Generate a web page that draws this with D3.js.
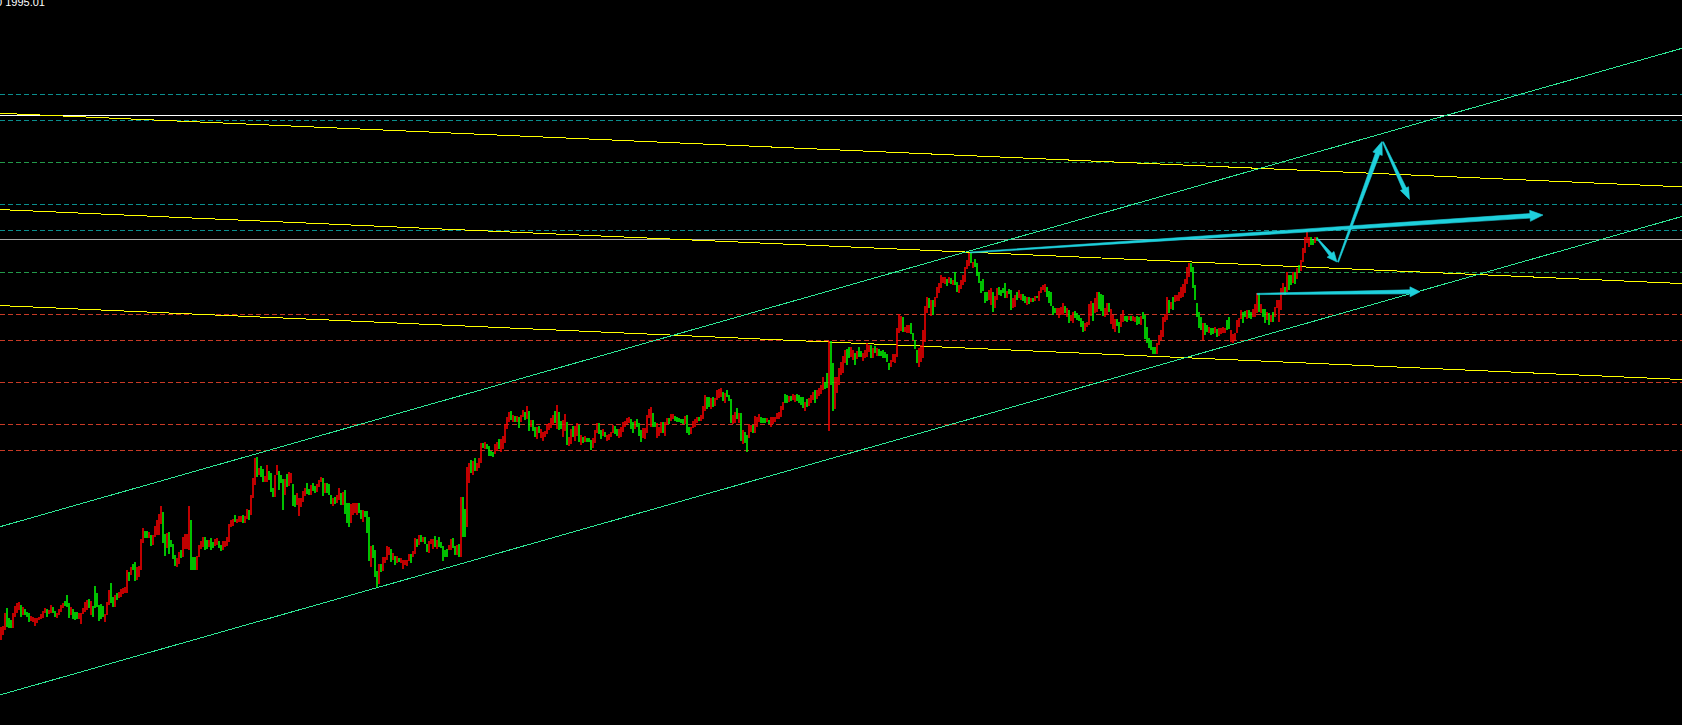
<!DOCTYPE html>
<html><head><meta charset="utf-8">
<script src="https://cdn.jsdelivr.net/npm/d3@7"></script>
<style>html,body{margin:0;padding:0;background:#000;overflow:hidden}</style>
</head><body><svg id="c" width="1682" height="725"></svg>
<script>
// ---- DATA ----
const headerText = "0 1995.01";
// [open, close] per H1 candle
const candles = [
[1955.0,1956.3],[1955.5,1956.4],[1956.0,1957.7],[1958.2,1956.3],[1957.2,1956.2],[1957.0,1956.2],[1956.2,1957.7],[1957.3,1958.4],[1957.7,1958.7],[1958.0,1958.8],
[1958.5,1957.3],[1957.5,1958.3],[1958.1,1957.5],[1957.8,1957.3],[1957.7,1956.8],[1956.9,1957.4],[1956.8,1957.3],[1956.4,1957.2],[1956.7,1957.2],[1957.0,1957.3],
[1957.1,1957.6],[1957.2,1957.9],[1957.7,1958.2],[1958.1,1957.3],[1957.6,1958.0],[1957.7,1958.5],[1958.3,1957.7],[1957.9,1957.3],[1957.2,1957.7],[1957.5,1958.1],
[1957.8,1958.5],[1958.2,1958.7],[1958.9,1958.4],[1959.5,1958.3],[1958.7,1957.2],[1957.5,1958.3],[1958.1,1957.1],[1957.8,1957.0],[1957.8,1957.1],[1957.1,1957.7],
[1956.6,1957.7],[1957.6,1958.2],[1957.8,1958.8],[1958.0,1959.0],[1959.1,1958.2],[1957.5,1958.9],[1958.4,1957.3],[1960.4,1958.2],[1959.7,1958.3],[1958.5,1956.9],
[1958.6,1957.1],[1958.4,1957.3],[1956.8,1957.6],[1957.5,1958.8],[1958.5,1960.0],[1960.7,1958.7],[1959.3,1958.3],[1958.3,1959.5],[1959.7,1959.0],[1959.2,1959.8],
[1959.3,1960.1],[1959.6,1960.2],[1959.7,1960.3],[1959.7,1962.0],[1961.8,1960.9],[1961.5,1962.3],[1962.6,1962.0],[1962.8,1960.9],[1961.0,1962.3],[1961.3,1962.4],
[1962.0,1965.1],[1964.7,1966.2],[1965.9,1965.2],[1965.9,1965.2],[1965.2,1965.8],[1965.5,1964.4],[1964.5,1965.5],[1965.3,1966.4],[1965.5,1967.0],[1965.5,1967.6],
[1966.6,1968.4],[1967.8,1964.7],[1965.6,1963.4],[1964.2,1965.7],[1965.8,1963.6],[1965.0,1964.3],[1964.6,1963.1],[1963.5,1962.4],[1962.3,1963.2],[1962.6,1963.8],
[1964.0,1963.2],[1963.3,1965.3],[1964.1,1965.6],[1964.1,1965.6],[1964.0,1968.4],[1967.0,1962.0],[1963.3,1962.0],[1963.3,1962.0],[1962.0,1963.4],[1963.3,1964.5],
[1964.1,1964.9],[1964.3,1965.3],[1965.3,1964.0],[1965.0,1964.1],[1964.3,1965.0],[1965.2,1964.0],[1964.8,1964.2],[1964.4,1965.1],[1964.5,1965.2],[1964.9,1964.2],
[1964.5,1963.9],[1964.0,1964.9],[1964.3,1964.9],[1964.4,1965.3],[1964.8,1966.6],[1966.3,1967.0],[1966.4,1967.1],[1967.5,1966.8],[1966.7,1967.1],[1966.8,1967.4],
[1966.8,1967.4],[1967.5,1966.7],[1966.7,1967.4],[1967.1,1968.1],[1968.0,1967.0],[1967.5,1969.5],[1969.2,1971.2],[1970.5,1973.2],[1973.3,1971.3],[1971.5,1972.2],
[1972.4,1971.3],[1972.1,1970.8],[1970.8,1971.4],[1970.8,1972.5],[1971.9,1971.0],[1971.7,1969.8],[1970.2,1969.3],[1969.3,1971.5],[1971.5,1972.5],[1971.9,1970.0],
[1971.5,1970.7],[1971.1,1968.0],[1969.5,1971.1],[1971.6,1970.3],[1970.4,1971.8],[1970.7,1971.7],[1970.6,1968.4],[1969.5,1968.3],[1968.5,1969.7],[1967.4,1969.2],
[1968.3,1969.2],[1968.8,1969.9],[1969.4,1970.2],[1970.7,1969.6],[1970.1,1969.5],[1969.5,1970.5],[1970.7,1969.9],[1970.4,1969.7],[1969.8,1970.6],[1970.3,1971.0],
[1970.8,1971.3],[1971.2,1969.4],[1969.7,1970.7],[1970.7,1969.7],[1970.6,1969.5],[1969.5,1968.6],[1968.4,1969.2],[1969.3,1968.6],[1968.7,1969.5],[1969.0,1970.2],
[1969.7,1968.5],[1968.5,1969.8],[1970.0,1967.6],[1968.7,1966.7],[1968.7,1966.3],[1966.7,1968.6],[1967.5,1968.7],[1967.7,1968.7],[1967.5,1968.7],[1968.7,1967.7],
[1968.0,1967.1],[1966.8,1968.0],[1967.9,1967.3],[1967.9,1965.7],[1967.3,1962.9],[1962.3,1964.4],[1964.5,1963.2],[1964.0,1961.3],[1961.9,1960.3],[1960.6,1962.6],
[1962.6,1961.8],[1961.9,1963.3],[1962.7,1963.3],[1963.0,1964.4],[1963.5,1964.3],[1964.1,1962.8],[1963.0,1963.7],[1963.4,1962.5],[1962.7,1963.4],[1963.2,1962.8],
[1962.7,1963.2],[1962.1,1963.0],[1962.5,1963.0],[1962.4,1963.0],[1962.9,1963.6],[1963.6,1962.7],[1963.3,1963.9],[1963.6,1965.2],[1965.1,1964.3],[1964.5,1965.5],
[1965.5,1964.8],[1964.8,1965.3],[1965.3,1964.6],[1964.6,1963.8],[1963.7,1964.9],[1964.6,1965.1],[1964.1,1965.1],[1965.4,1964.3],[1964.1,1965.0],[1965.3,1964.3],
[1964.8,1964.2],[1964.4,1962.9],[1964.0,1963.3],[1964.1,1963.3],[1964.0,1964.5],[1964.0,1965.1],[1965.2,1964.2],[1964.4,1963.5],[1963.5,1964.5],[1964.6,1963.3],
[1963.3,1969.3],[1969.3,1965.3],[1968.1,1965.3],[1966.3,1972.3],[1970.7,1972.7],[1973.0,1971.7],[1971.5,1972.9],[1973.2,1971.9],[1971.9,1972.7],[1972.2,1973.2],
[1972.7,1974.7],[1974.7,1974.2],[1974.1,1974.8],[1974.6,1974.1],[1974.4,1973.4],[1973.9,1973.4],[1973.8,1973.3],[1973.6,1974.6],[1973.9,1974.8],[1975.1,1974.1],
[1973.8,1975.1],[1974.1,1975.4],[1974.7,1976.6],[1976.1,1977.3],[1976.8,1977.8],[1977.9,1977.0],[1976.8,1977.5],[1977.4,1976.8],[1976.8,1977.4],[1977.3,1976.2],
[1976.8,1977.5],[1977.3,1978.0],[1977.8,1977.0],[1977.1,1978.4],[1977.9,1975.9],[1976.3,1977.0],[1977.0,1975.9],[1976.3,1975.3],[1975.1,1976.3],[1976.4,1975.7],
[1975.2,1976.1],[1974.9,1975.8],[1975.3,1975.9],[1975.6,1976.6],[1976.0,1976.7],[1976.2,1977.2],[1976.5,1977.5],[1977.9,1976.7],[1976.1,1978.5],[1977.8,1976.0],
[1976.9,1976.1],[1975.3,1977.0],[1975.9,1977.6],[1976.8,1974.5],[1974.4,1975.3],[1974.6,1976.1],[1976.4,1975.3],[1974.9,1976.4],[1975.4,1976.7],[1976.5,1974.8],
[1974.5,1975.5],[1975.3,1974.7],[1974.8,1975.4],[1975.2,1974.8],[1975.2,1974.8],[1975.0,1974.0],[1974.2,1975.2],[1974.7,1976.0],[1975.7,1976.7],[1976.7,1975.6],
[1976.0,1975.1],[1975.4,1976.1],[1975.8,1975.3],[1974.9,1975.5],[1975.0,1975.6],[1975.3,1975.8],[1975.7,1976.5],[1976.4,1975.6],[1976.1,1975.4],[1975.2,1976.1],
[1975.3,1976.3],[1975.8,1976.8],[1976.3,1976.9],[1976.6,1977.2],[1976.7,1977.3],[1977.1,1976.1],[1976.8,1975.7],[1976.1,1976.9],[1977.1,1976.3],[1976.7,1975.4],
[1976.0,1974.8],[1975.2,1976.2],[1975.1,1976.2],[1975.7,1977.5],[1977.2,1978.1],[1976.3,1978.3],[1977.7,1976.3],[1976.8,1976.3],[1975.2,1976.7],[1975.4,1976.3],
[1975.7,1976.8],[1976.8,1975.7],[1975.4,1976.8],[1976.5,1977.2],[1977.2,1976.6],[1976.9,1977.6],[1977.1,1977.6],[1977.4,1976.9],[1977.3,1976.8],[1977.2,1976.8],
[1977.1,1976.7],[1977.1,1976.6],[1976.6,1977.4],[1977.5,1975.7],[1976.3,1975.5],[1975.6,1976.3],[1976.2,1976.9],[1976.3,1977.1],[1976.7,1977.3],[1977.3,1976.9],
[1976.9,1977.5],[1977.1,1978.4],[1977.9,1979.5],[1979.3,1978.1],[1979.3,1978.3],[1978.1,1979.2],[1979.3,1978.3],[1978.4,1979.2],[1979.0,1980.0],[1979.2,1980.1],
[1979.3,1980.2],[1979.8,1978.9],[1978.7,1979.7],[1980.0,1979.3],[1979.5,1978.9],[1979.1,1976.7],[1976.6,1977.5],[1976.7,1977.8],[1978.2,1977.1],[1976.7,1977.7],
[1977.7,1974.9],[1974.6,1976.0],[1975.8,1974.7],[1975.5,1973.8],[1975.2,1976.6],[1975.8,1976.5],[1976.5,1975.7],[1975.7,1977.4],[1976.3,1977.3],[1976.8,1977.6],
[1977.3,1976.7],[1977.2,1976.7],[1977.2,1976.7],[1976.8,1977.2],[1977.0,1976.6],[1976.3,1977.3],[1976.6,1977.3],[1976.8,1977.3],[1977.1,1977.7],[1977.1,1977.8],
[1977.3,1978.4],[1978.0,1978.8],[1979.6,1978.7],[1979.5,1978.7],[1978.8,1979.4],[1979.4,1978.9],[1979.0,1979.6],[1978.8,1979.5],[1979.6,1978.9],[1979.5,1978.7],
[1979.3,1978.5],[1979.3,1978.2],[1977.9,1978.8],[1979.1,1978.3],[1978.4,1979.2],[1978.7,1979.5],[1979.0,1979.8],[1980.0,1978.7],[1979.1,1980.0],[1979.4,1980.2],
[1979.6,1980.5],[1980.0,1981.3],[1980.8,1980.1],[1981.7,1980.2],[1975.9,1984.9],[1984.9,1980.5],[1982.7,1977.9],[1978.1,1981.3],[1979.7,1981.3],[1980.5,1982.2],
[1981.5,1982.8],[1981.7,1983.4],[1982.7,1984.0],[1984.1,1982.5],[1984.3,1983.2],[1983.3,1984.3],[1983.0,1984.0],[1983.7,1982.5],[1983.1,1983.9],[1984.3,1983.3],
[1983.9,1983.3],[1982.9,1983.7],[1983.2,1984.0],[1983.3,1984.7],[1983.8,1984.5],[1984.5,1983.2],[1983.2,1984.2],[1984.4,1983.7],[1983.4,1984.2],[1984.1,1983.4],
[1983.9,1983.4],[1984.0,1983.2],[1983.8,1983.2],[1983.6,1982.8],[1982.7,1982.0],[1982.3,1983.0],[1982.8,1983.6],[1982.7,1983.6],[1983.3,1986.2],[1985.7,1987.6],
[1985.9,1987.4],[1987.3,1985.8],[1985.8,1986.3],[1985.7,1986.5],[1985.7,1986.5],[1986.7,1985.6],[1985.7,1985.0],[1985.0,1984.1],[1984.0,1982.7],[1982.3,1984.2],
[1982.8,1984.5],[1983.2,1986.0],[1984.8,1988.4],[1987.7,1989.3],[1989.2,1988.2],[1987.4,1989.0],[1989.0,1987.5],[1988.3,1989.3],[1989.2,1990.3],[1989.7,1990.7],
[1990.2,1991.5],[1990.7,1991.3],[1990.6,1991.3],[1991.1,1990.4],[1990.7,1991.3],[1991.2,1990.6],[1990.5,1991.0],[1991.8,1990.5],[1990.8,1989.8],[1989.7,1990.5],
[1990.1,1991.0],[1990.5,1991.5],[1990.8,1992.3],[1992.1,1993.0],[1992.4,1993.7],[1993.7,1992.7],[1992.2,1992.8],[1993.1,1992.3],[1992.7,1991.4],[1991.8,1990.7],
[1990.9,1989.7],[1991.1,1989.9],[1989.8,1988.7],[1989.8,1988.9],[1989.0,1990.0],[1988.5,1990.2],[1989.8,1987.8],[1988.2,1989.4],[1989.0,1990.2],[1990.3,1989.5],
[1990.0,1989.4],[1990.2,1989.7],[1990.7,1989.2],[1989.2,1989.9],[1990.1,1989.6],[1990.0,1988.0],[1988.2,1989.2],[1988.3,1989.5],[1989.8,1989.0],[1989.2,1990.0],
[1989.0,1989.6],[1989.6,1988.9],[1989.4,1988.7],[1988.5,1989.3],[1989.3,1988.6],[1988.8,1989.2],[1989.2,1988.8],[1988.9,1989.4],[1989.4,1989.2],[1988.9,1989.9],
[1989.7,1990.3],[1990.0,1990.5],[1989.8,1990.6],[1990.3,1989.3],[1989.9,1988.7],[1989.8,1988.4],[1988.4,1987.5],[1988.2,1987.7],[1987.5,1988.2],[1987.2,1988.2],
[1987.5,1988.3],[1987.5,1988.7],[1988.4,1987.7],[1987.3,1988.2],[1988.0,1986.7],[1986.9,1987.5],[1986.7,1987.8],[1987.9,1987.2],[1987.7,1987.0],[1987.5,1986.9],
[1987.2,1986.3],[1986.9,1985.8],[1985.9,1986.7],[1986.3,1986.8],[1986.5,1988.6],[1987.4,1988.9],[1988.7,1986.9],[1987.7,1989.2],[1987.8,1989.8],[1989.8,1988.1],
[1989.6,1987.9],[1989.5,1987.4],[1987.3,1988.2],[1987.5,1988.7],[1988.7,1987.8],[1986.6,1988.1],[1986.1,1987.5],[1985.8,1987.1],[1987.1,1986.4],[1986.8,1985.7],
[1986.3,1987.5],[1986.8,1988.0],[1987.4,1986.9],[1987.4,1986.8],[1987.0,1987.4],[1987.4,1986.9],[1986.9,1987.4],[1986.8,1987.3],[1987.4,1986.5],[1987.3,1986.6],
[1986.5,1987.4],[1987.8,1987.1],[1987.5,1985.1],[1986.3,1984.7],[1985.2,1984.2],[1985.0,1984.0],[1984.3,1983.6],[1984.3,1983.6],[1983.6,1984.7],[1984.5,1985.5],
[1985.0,1986.0],[1985.3,1987.3],[1986.8,1987.6],[1987.0,1989.3],[1989.0,1987.7],[1988.1,1988.8],[1989.3,1988.0],[1988.8,1989.5],[1988.9,1989.5],[1988.9,1989.8],
[1989.2,1990.3],[1989.3,1990.6],[1989.7,1991.1],[1990.6,1992.3],[1991.3,1992.7],[1992.7,1991.8],[1992.3,1990.2],[1990.5,1989.0],[1988.7,1987.3],[1987.8,1986.2],
[1987.3,1986.0],[1985.0,1986.7],[1986.7,1985.5],[1986.5,1985.8],[1985.7,1986.3],[1986.2,1985.5],[1986.2,1985.6],[1985.7,1986.3],[1986.1,1985.3],[1985.4,1986.2],
[1985.6,1986.2],[1985.7,1986.3],[1985.7,1986.2],[1987.0,1986.0],[1987.3,1986.1],[1984.8,1986.0],[1984.7,1985.6],[1985.0,1985.7],[1985.7,1987.0],[1986.3,1987.2],
[1987.1,1988.0],[1987.8,1986.7],[1987.9,1987.3],[1987.1,1988.0],[1988.0,1987.2],[1987.8,1987.1],[1987.3,1988.1],[1987.3,1988.6],[1987.7,1989.7],[1989.7,1987.8],
[1987.7,1988.6],[1988.1,1987.3],[1988.1,1986.7],[1987.0,1987.8],[1987.7,1986.5],[1986.8,1987.5],[1987.8,1986.8],[1987.3,1988.3],[1988.2,1989.0],[1986.8,1989.0],
[1988.0,1990.2],[1989.5,1990.7],[1990.3,1989.5],[1989.8,1991.8],[1991.5,1990.0],[1991.5,1990.5],[1990.7,1991.8],[1991.8,1990.6],[1991.1,1992.2],[1992.5,1991.7],
[1991.9,1993.0],[1992.8,1994.2],[1993.7,1995.3],[1994.7,1995.8],[1994.3,1995.3],[1995.3,1994.5],[1995.0,1994.5],[1994.7,1995.3],[1995.3,1994.9]
];
// horizontal levels (price)
const tealLevels = [2009.6, 2007.0, 1998.6, 1996.0];
const greenLevels = [2002.8, 1991.8];
const redLevels = [1987.6, 1985.0, 1980.8, 1976.6, 1974.0];
const whiteLevel = [2007.5];
const silverLevel = [1995.1];
// trendlines as [index1, price1, index2, price2]
const channelLines = [[118, 1973.07, 484, 1993.89], [188, 1960.23, 700, 1989.36]];
const yellowLines = [[0, 2007.67, 840, 2000.32], [0, 1998.04, 840, 1990.65], [0, 1988.44, 840, 1981.05]];
// arrows as [index1, price1, index2, price2]
const arrows = [
  [484.5, 1993.75, 771, 1997.5],
  [628, 1989.6, 709.5, 1989.83],
  [658, 1995.17, 668, 1992.8],
  [668.5, 1992.8, 690.5, 2004.85],
  [691, 2004.8, 704.25, 1999.05]
];

// ---- DRAW ----
const W = 1682, H = 725;
const svg = d3.select("#c");
svg.append("rect").attr("width", W).attr("height", H).attr("fill", "#000");
const x = d3.scaleLinear().domain([0, 658]).range([1, 1317]);
const y = d3.scaleLinear().domain([1946.5, 2019]).range([H, 0]);

function hLines(levels, color, dash) {
  svg.append("g").selectAll("line").data(levels).join("line")
    .attr("x1", 0).attr("x2", W)
    .attr("y1", d => Math.round(y(d)) + 0.5).attr("y2", d => Math.round(y(d)) + 0.5)
    .attr("stroke", color).attr("stroke-width", 1)
    .attr("stroke-dasharray", dash).attr("shape-rendering", "crispEdges");
}
hLines(tealLevels, "#0b8f8f", "5,3");
hLines(greenLevels, "#22994a", "5,3");
hLines(redLevels, "#c83a26", "5,3");
hLines(whiteLevel, "#ffffff", null);
hLines(silverLevel, "#a8a8a8", null);

function extLine(t) {
  const [i1, p1, i2, p2] = t;
  const X1 = x(i1), Y1 = y(p1), X2 = x(i2), Y2 = y(p2);
  const m = (Y2 - Y1) / (X2 - X1);
  return [0, Y1 + m * (0 - X1), W, Y1 + m * (W - X1)];
}
function trend(lines, color, w) {
  svg.append("g").selectAll("line").data(lines.map(extLine)).join("line")
    .attr("x1", d => d[0]).attr("y1", d => d[1]).attr("x2", d => d[2]).attr("y2", d => d[3])
    .attr("stroke", color).attr("stroke-width", w).attr("shape-rendering", "crispEdges");
}
trend(yellowLines, "#ffff00", 1);
trend(channelLines, "#2ee896", 1);

// candles
svg.append("g").selectAll("rect").data(candles).join("rect")
  .attr("x", (d, i) => x(i) - 0.75)
  .attr("width", 1.5)
  .attr("y", d => y(Math.max(d[0], d[1])))
  .attr("height", d => Math.max(1, Math.abs(y(d[0]) - y(d[1]))))
  .attr("fill", d => d[1] >= d[0] ? "#ff0000" : "#00ff00");

// arrows
const arrowStyle = [
  {w0: 1, w1: 4.5, hl: 13, hw: 11},
  {w0: 1.2, w1: 4, hl: 10, hw: 10},
  {w0: 1, w1: 3.5, hl: 10, hw: 9},
  {w0: 1.2, w1: 4.5, hl: 13, hw: 10},
  {w0: 1.2, w1: 4, hl: 12, hw: 9}
];
function arrowPath(a, s) {
  const X1 = x(a[0]), Y1 = y(a[1]), X2 = x(a[2]), Y2 = y(a[3]);
  const dx = X2 - X1, dy = Y2 - Y1, L = Math.hypot(dx, dy);
  const ux = dx / L, uy = dy / L, nx = -uy, ny = ux;
  const bx = X2 - ux * s.hl, by = Y2 - uy * s.hl;
  const p = [
    [X1 + nx * s.w0 / 2, Y1 + ny * s.w0 / 2],
    [bx + nx * s.w1 / 2, by + ny * s.w1 / 2],
    [bx + nx * s.hw / 2, by + ny * s.hw / 2],
    [X2, Y2],
    [bx - nx * s.hw / 2, by - ny * s.hw / 2],
    [bx - nx * s.w1 / 2, by - ny * s.w1 / 2],
    [X1 - nx * s.w0 / 2, Y1 - ny * s.w0 / 2]
  ];
  return "M" + p.map(q => q[0].toFixed(2) + "," + q[1].toFixed(2)).join("L") + "Z";
}
svg.append("g").selectAll("path").data(arrows).join("path")
  .attr("d", (d, i) => arrowPath(d, arrowStyle[i]))
  .attr("fill", "#1fd0dc").attr("stroke", "#1fd0dc").attr("stroke-width", 0.6)
  .attr("stroke-linejoin", "miter");

svg.append("text").attr("x", -4).attr("y", 5.5)
  .attr("font-family", "Liberation Sans, Arial, sans-serif").attr("font-size", 11)
  .attr("fill", "#ffffff").text(headerText);
</script>
</body></html>
